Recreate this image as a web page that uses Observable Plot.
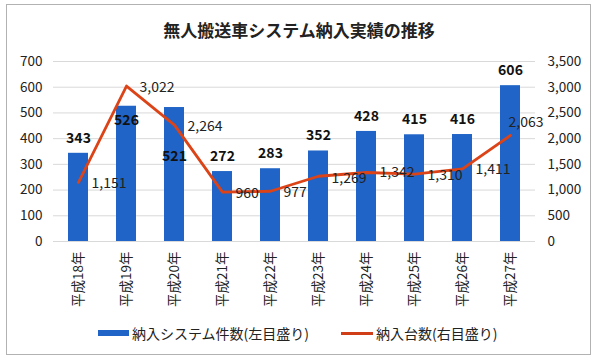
<!DOCTYPE html>
<html>
<head>
<meta charset="utf-8">
<script src="https://cdn.jsdelivr.net/npm/d3@7"></script>
<script src="https://cdn.jsdelivr.net/npm/@observablehq/plot@0.6"></script>
<style>
  html, body { margin: 0; padding: 0; background: #fff; }
  body { width: 600px; height: 363px; position: relative; overflow: hidden;
         font-family: "Noto Sans CJK JP", "Noto Sans", sans-serif; }
  #frame { position: absolute; left: 6px; top: 4px; width: 585px; height: 351px;
           border: 1.5px solid #b2b2b2; box-sizing: border-box; }
  #title { position: absolute; left: 6px; width: 586px; top: 17px; text-align: center;
           font-size: 17px; font-weight: bold; color: #222; line-height: 26px; }
  #chart { position: absolute; left: 0; top: 0; }
  #legend { position: absolute; left: 98px; top: 323px; display: flex; align-items: center;
            font-size: 14px; color: #222; line-height: 20px; }
  .sw { display: inline-block; margin-right: 3px; }
</style>
</head>
<body>
<div id="frame"></div>
<div id="title">無人搬送車システム納入実績の推移</div>
<div id="chart"></div>
<div id="legend">
  <span class="sw" style="width:31px;height:6px;background:#1f64c6"></span>
  <span id="lg1"></span>
  <span class="sw" style="width:32px;height:3px;background:#cf3e17;margin-left:32px"></span>
  <span id="lg2"></span>
</div>
<script>
const years = ["平成18年","平成19年","平成20年","平成21年","平成22年","平成23年","平成24年","平成25年","平成26年","平成27年"];
const systems = [343, 526, 521, 272, 283, 352, 428, 415, 416, 606];
const units = [1151, 3022, 2264, 960, 977, 1269, 1342, 1310, 1411, 2063];
const leftTicks = [0, 100, 200, 300, 400, 500, 600, 700];
const seriesNames = ["納入システム件数(左目盛り)", "納入台数(右目盛り)"];
const ratio = 3500 / 700;

document.getElementById("lg1").textContent = seriesNames[0];
document.getElementById("lg2").textContent = seriesNames[1];

const data = years.map((y, i) => ({year: y, systems: systems[i], units: units[i], i}));

// label placement (styling only)
const barLabelDy = [-15, 14, 49, -15, -15, -15, -15, -15, -15, -15];
const lineLabelDx = [13, 13, 13, 13, 13, 13, 13, 13, 13, -2];
const lineLabelDy = [1, 1, 1, 1, 1, 2, 0, 1, 1, -13];

const fmt = d3.format(",");
const font = "Noto Sans CJK JP, Noto Sans, sans-serif";

const marks = [
  Plot.gridY(leftTicks, {stroke: "#d9d9d9", strokeOpacity: 1}),
  Plot.barY(data, {x: "year", y: "systems", fill: "#1f64c6"}),
  Plot.line(data, {x: "year", y: d => d.units / ratio, stroke: "#dc4418", strokeWidth: 2.8}),
  Plot.axisY(leftTicks, {anchor: "left", tickSize: 0, tickPadding: 11, fontSize: 13.5, fill: "#222"}),
  Plot.axisY(leftTicks, {anchor: "right", tickSize: 0, tickPadding: 12, fontSize: 13.5, fill: "#222",
    textAnchor: "start", tickFormat: d => fmt(d * ratio)}),
  Plot.axisX({tickSize: 0, tickRotate: -90, tickPadding: 10, fontSize: 13.5, fill: "#222", textAnchor: "end"})
];
data.forEach((d, i) => {
  marks.push(Plot.text([d], {x: "year", y: "systems", text: d => String(d.systems),
    dy: barLabelDy[i], fontWeight: "bold", fontSize: 14, fill: "#111"}));
  marks.push(Plot.text([d], {x: "year", y: d => d.units / ratio, text: d => fmt(d.units),
    dx: lineLabelDx[i], dy: lineLabelDy[i], textAnchor: "start", fontSize: 14, fill: "#222"}));
});

const chart = Plot.plot({
  width: 600,
  height: 320,
  marginLeft: 53,
  marginRight: 65,
  marginTop: 61,
  marginBottom: 79,
  style: {background: "transparent", fontFamily: font},
  x: {domain: years, paddingInner: 0.59, paddingOuter: 0.295, label: null},
  y: {domain: [0, 700], label: null},
  marks
});
document.getElementById("chart").appendChild(chart);
</script>
</body>
</html>
